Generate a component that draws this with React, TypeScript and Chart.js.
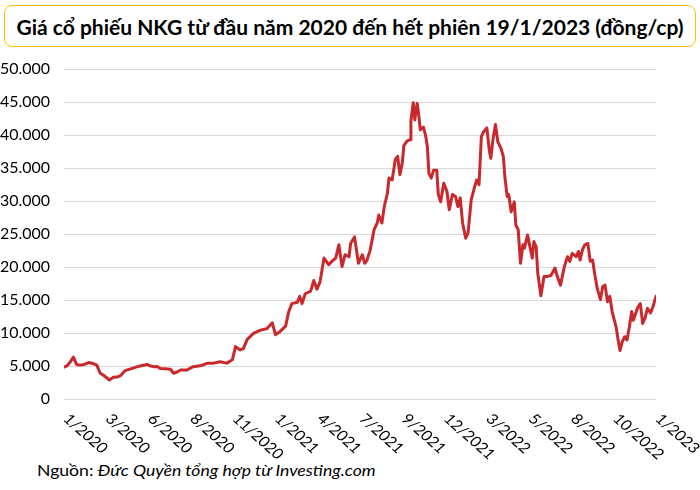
import React, { useEffect, useRef } from "react";
import { Chart, registerables } from "chart.js";

Chart.register(...registerables);

// Trading-session index (0 = first session of 2020, 756 = 19/1/2023)
const sessions: number[] = [
  0, 4, 8, 12, 16, 20, 26, 32, 38, 42, 46, 50, 58, 63, 68, 72, 78, 87, 92, 97,
  106, 110, 114, 119, 123, 129, 136, 140, 145, 149, 157, 165, 174, 183, 191, 199,
  208, 215, 219, 225, 229, 234, 242, 251, 259, 266, 270, 276, 283, 287, 291, 298,
  301, 304, 308, 315, 319, 323, 327, 332, 338, 342, 347, 351, 355, 359, 364, 366,
  371, 376, 381, 384, 387, 391, 396, 400, 402, 406, 409, 413, 415, 419, 421, 423,
  426, 429, 432, 434, 438, 442, 443, 446, 448, 451, 453, 455, 459, 462, 464, 466,
  469, 472, 476, 478, 481, 485, 489, 492, 496, 500, 503, 506, 509, 513, 516, 520,
  524, 527, 530, 533, 536, 540, 543, 545, 548, 551, 554, 558, 561, 563, 566, 568,
  571, 575, 577, 580, 583, 586, 588, 592, 595, 598, 600, 603, 605, 609, 613, 617,
  622, 627, 630, 634, 639, 643, 646, 649, 654, 657, 659, 662, 665, 669, 672, 675,
  678, 681, 685, 688, 691, 694, 697, 700, 705, 708, 710, 713, 716, 719, 722, 725,
  727, 730, 733, 736, 739, 742, 745, 749, 752, 756,
];

// Closing price (đồng/cp)
const prices: number[] = [
  4900, 5100, 5700, 6400, 5300, 5200, 5300, 5600, 5400, 5200, 4000, 3700, 2950, 3360, 3400, 3600, 4360, 4700, 4900, 5070,
  5300, 5100, 4970, 5000, 4700, 4650, 4570, 3970, 4200, 4470, 4470, 4970, 5100, 5480, 5500, 5700,
  5500, 6000, 8000, 7500, 7700, 9100, 10000, 10500, 10700, 11600, 9800, 10300, 11100, 13300, 14500, 14700,
  15600, 14500, 16000, 16400, 18000, 16700, 17800, 21400, 20400, 20900, 21400, 23400, 20100, 21900, 21600, 23600,
  24600, 20600, 21900, 20600, 21100, 22600, 25700, 26700, 27900, 26700, 29200, 31200, 33500, 33200, 34700, 36300,
  36800, 34000, 35800, 38400, 39100, 39300, 42100, 44900, 42300, 44800, 43100, 40800, 41200, 39800, 38300, 34200,
  33500, 34700, 34700, 31000, 29900, 32700, 31500, 28700, 31000, 30700, 29200, 30500, 26700, 24400, 25200, 30200,
  32000, 33200, 32500, 39800, 40500, 41100, 37800, 36500, 39500, 41600, 39000, 38000, 36800, 33700, 30700, 31000,
  28400, 29900, 26400, 25700, 20600, 23400, 22900, 24900, 23100, 21400, 23900, 23100, 19100, 15700, 18600, 18600,
  18800, 19900, 18600, 17300, 20100, 21600, 20900, 22100, 21600, 22400, 21100, 22600, 23400, 23600, 20900, 21100,
  18800, 16800, 15100, 17100, 17300, 14800, 15600, 13300, 11000, 8750, 7400, 8750, 9500, 9000, 11000, 13300,
  12000, 13000, 14000, 14500, 11500, 12300, 13800, 13100, 14000, 15600,
];

const tickLabels: string[] = [
  "1/2020", "3/2020", "6/2020", "8/2020", "11/2020", "1/2021", "4/2021", "7/2021",
  "9/2021", "12/2021", "3/2022", "5/2022", "8/2022", "10/2022", "1/2023",
];
const sessionsPerLabel = 54;

const yMin = 0;
const yMax = 50000;
const yStep = 5000;

const FONT = "Lato, 'Noto Sans', sans-serif";
const STRETCH = 1.13;

function fmt(v: number): string {
  return String(Math.round(v)).replace(/\B(?=(\d{3})+(?!\d))/g, ".");
}

const axisLabels = {
  id: "axisLabels",
  afterDraw(chart: any) {
    const { ctx, chartArea, scales } = chart;
    const xs = scales.x;
    const ys = scales.y;
    ctx.save();
    ctx.fillStyle = "#000";
    // y labels
    ctx.font = `14.5px ${FONT}`;
    ctx.textAlign = "right";
    ctx.textBaseline = "middle";
    ys.ticks.forEach((t: any) => {
      const py = ys.getPixelForValue(t.value);
      ctx.save();
      ctx.translate(chartArea.left - 14, py);
      ctx.scale(1.1, 1);
      ctx.fillText(fmt(t.value), 0, 0);
      ctx.restore();
    });
    // x labels, rotated downward
    ctx.font = `14.5px ${FONT}`;
    ctx.textAlign = "left";
    ctx.textBaseline = "middle";
    tickLabels.forEach((lab, i) => {
      const px = xs.getPixelForValue(i * sessionsPerLabel);
      ctx.save();
      ctx.translate(px + 2, chartArea.bottom + 17);
      ctx.scale(STRETCH, 1);
      ctx.rotate(Math.PI / 4);
      ctx.fillText(lab, 0, 0);
      ctx.restore();
    });
    ctx.restore();
  },
};

export default function App() {
  const ref = useRef<HTMLCanvasElement | null>(null);

  useEffect(() => {
    if (!ref.current) return;
    const data = sessions.map((s, i) => ({ x: s, y: prices[i] }));
    const chart = new Chart(ref.current, {
      type: "line",
      data: {
        datasets: [
          {
            data,
            borderColor: "#c9282d",
            borderWidth: 3,
            borderJoinStyle: "round",
            borderCapStyle: "round",
            pointRadius: 0,
            tension: 0,
            fill: false,
          },
        ],
      },
      options: {
        animation: false,
        responsive: false,
        maintainAspectRatio: false,
        layout: { padding: { top: 19, right: 44, bottom: 60.5, left: 0 } },
        plugins: {
          legend: { display: false },
          tooltip: { enabled: false },
        },
        scales: {
          x: {
            type: "linear",
            display: false,
            min: 0,
            max: sessionsPerLabel * (tickLabels.length - 1),
          },
          y: {
            min: yMin,
            max: yMax,
            afterFit: (s: any) => {
              s.width = 64;
            },
            border: { display: false },
            grid: { color: "#d9d9d9", lineWidth: 1, drawTicks: false },
            ticks: {
              stepSize: yStep,
              display: false,
            },
          },
        },
      },
      plugins: [axisLabels],
    });
    return () => chart.destroy();
  }, []);

  return (
    <div
      style={{
        position: "absolute",
        left: 0,
        top: 0,
        width: 700,
        height: 490,
        background: "#fff",
        fontFamily: FONT,
      }}
    >
      <div
        style={{
          position: "absolute",
          left: 4,
          top: 5,
          width: 690,
          height: 40,
          border: "1.5px solid #ffc000",
          borderRadius: 8,
          display: "flex",
          alignItems: "center",
          justifyContent: "center",
          fontWeight: 700,
          fontSize: 21,
          color: "#000",
          whiteSpace: "nowrap",
        }}
      >
        Giá cổ phiếu NKG từ đầu năm 2020 đến hết phiên 19/1/2023 (đồng/cp)
      </div>
      <canvas
        ref={ref}
        width={700}
        height={410}
        style={{ position: "absolute", left: 0, top: 50, width: 700, height: 410 }}
      />
      <div
        style={{
          position: "absolute",
          left: 37,
          top: 460,
          fontSize: 16,
          color: "#000",
          whiteSpace: "nowrap",
          transform: "scaleX(1.1)",
          transformOrigin: "left center",
        }}
      >
        Nguồn: <i>Đức Quyền tổng hợp từ Investing.com</i>
      </div>
    </div>
  );
}
